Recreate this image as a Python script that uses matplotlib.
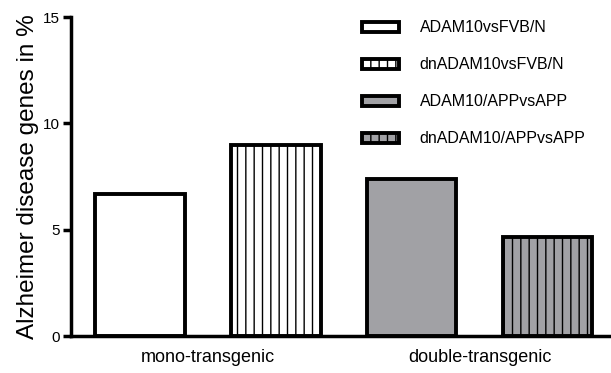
import matplotlib
matplotlib.use('Agg')
import matplotlib.pyplot as plt
from matplotlib.patches import Patch
import numpy as np

plt.rcParams['font.family'] = ['Liberation Sans', 'DejaVu Sans']
plt.rcParams['hatch.linewidth'] = 1.0

# Anteil der Alzheimer-Gene pro Vergleich
groups = ['mono-transgenic', 'double-transgenic']
series = ['ADAM10vsFVB/N', 'dnADAM10vsFVB/N', 'ADAM10/APPvsAPP', 'dnADAM10/APPvsAPP']
values = [6.7, 9.0, 7.4, 4.65]
fills = ['white', 'white', '#a1a1a5', '#a1a1a5']
hatches = ['', '||', '', '||']

fig = plt.figure(figsize=(6.11, 3.73), dpi=100)
ax = fig.add_axes([0.116, 0.099, 0.88, 0.855])

x = np.arange(len(values))
for i in range(len(values)):
    ax.bar(x[i], values[i], width=0.66, color=fills[i], edgecolor='black',
           linewidth=2.8, hatch=hatches[i], zorder=2)

ax.set_xlim(-0.51, 3.45)
ax.set_ylim(0, 15)
ax.set_yticks([0, 5, 10, 15])
ax.set_xticks([0.5, 2.5])
ax.set_xticklabels(groups, fontsize=13)
ax.tick_params(axis='x', length=0, pad=9)
ax.tick_params(axis='y', width=2.5, length=6, labelsize=11, pad=2)
ax.set_ylabel('Alzheimer disease genes in %', fontsize=17.5, labelpad=3)

for s in ['top', 'right']:
    ax.spines[s].set_visible(False)
for s in ['left', 'bottom']:
    ax.spines[s].set_linewidth(2.5)

handles = [Patch(facecolor=fills[i], edgecolor='black', linewidth=2.8,
                 hatch=hatches[i], label=series[i]) for i in range(len(series))]
fig.legend(handles=handles, loc='upper left', bbox_to_anchor=(0.572, 0.98),
           frameon=False, fontsize=11.5, handlelength=2.3, handleheight=0.6,
           handletextpad=1.3, labelspacing=1.38, borderpad=0.3)

plt.savefig('out.png', dpi=100)
plt.close()
